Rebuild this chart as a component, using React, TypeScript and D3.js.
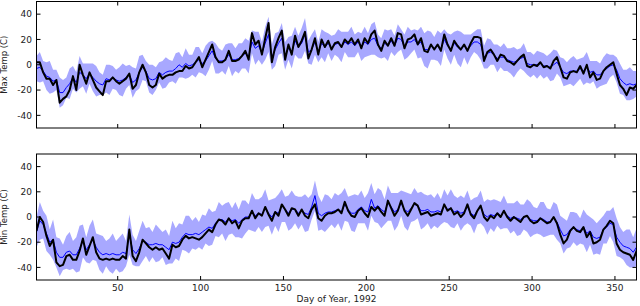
import React from 'react';
import * as d3 from 'd3';

// sample days: every other day of 1992
const days = d3.range(1, 366, 2);

// Max temp: observed (black), predicted mean (blue), band half width
const maxObs = [
  2, 2, -6, -11, -11, -16, -12, -30, -27, -25,
  -20, -9, -20, 0, -8, -15, -6, -12, -18, -21,
  -24, -13, -13, -10, -13, -15, -13, -11, -7, -19,
  -16, -6, 0, -6, -16, -18, -16, -7, -11, -9,
  -8, -8, -6, -5, -5, -1, -3, -2, 2, 6,
  -2, 4, 10, 16, 6, 2, 2, 4, 11, 3,
  3, 4, 7, 11, 4, 25, 16, 19, 8, 21,
  33, 2, 14, 21, 27, 4, 16, 8, 23, 14,
  19, 26, 5, 12, 21, 8, 20, 14, 19, 12,
  17, 18, 14, 20, 17, 21, 16, 20, 13, 21,
  17, 24, 27, 16, 11, 19, 15, 21, 15, 25,
  24, 13, 20, 21, 24, 16, 21, 11, 10, 16,
  12, 16, 11, 24, 16, 11, 19, 15, 12, 16,
  11, 17, 22, 22, 21, 3, 10, 12, 8, 3,
  8, 7, 3, 2, 0, 3, 6, 8, -1, -2,
  0, -1, 2, -2, -1, -3, 3, 6, -2, -10,
  -11, -6, -5, -6, -1, -7, 0, -10, -6, -12,
  -11, -5, -2, 0, 2, -7, -16, -19, -24, -18,
  -19, -16, -16,
];
const maxMean = [
  -3, -2, -5, -9, -10, -13, -12, -22, -22, -18,
  -15, -10, -14, -6, -8, -11, -7, -10, -13, -15,
  -16, -11, -12, -10, -12, -13, -12, -10, -8, -14,
  -12, -6, -2, -5, -11, -12, -11, -6, -8, -6,
  -5, -5, -3, 0, -2, 1, -1, 0, 2, 4,
  1, 3, 7, 11, 5, 3, 3, 4, 8, 4,
  4, 5, 7, 9, 6, 18, 13, 15, 9, 17,
  24, 6, 12, 17, 21, 7, 13, 10, 19, 14,
  17, 24, 10, 12, 18, 10, 17, 14, 17, 13,
  16, 17, 14, 18, 16, 18, 15, 18, 14, 18,
  16, 20, 21, 15, 13, 17, 15, 19, 15, 21,
  20, 14, 18, 18, 20, 16, 18, 12, 12, 15,
  13, 15, 12, 20, 15, 12, 17, 14, 12, 15,
  12, 15, 18, 18, 16, 6, 9, 10, 8, 5,
  6, 6, 4, 3, 2, 3, 5, 6, 1, 0,
  0, 0, 1, -1, -1, -2, 0, 2, -2, -6,
  -7, -5, -5, -5, -3, -5, -2, -6, -5, -8,
  -8, -5, -3, -1, 0, -4, -11, -14, -16, -15,
  -16, -15, -14,
];
const maxBand = [
  10, 12, 8, 11, 13, 9, 8, 12, 10, 8,
  12, 9, 8, 13, 9, 12, 8, 11, 12, 9,
  8, 11, 12, 9, 8, 11, 13, 9, 8, 12,
  9, 13, 10, 8, 11, 12, 9, 8, 11, 12,
  9, 8, 12, 10, 8, 12, 9, 8, 12, 10,
  8, 12, 11, 8, 12, 10, 8, 12, 9, 13,
  9, 12, 10, 12, 13, 9, 13, 11, 9, 13,
  14, 10, 13, 9, 12, 11, 9, 13, 11, 9,
  12, 13, 9, 12, 10, 8, 11, 12, 8, 10,
  8, 11, 12, 8, 10, 12, 9, 8, 11, 12,
  9, 12, 13, 9, 8, 11, 12, 9, 8, 11,
  8, 10, 12, 9, 8, 11, 12, 13, 15, 11,
  9, 12, 13, 8, 10, 12, 9, 13, 14, 9,
  12, 9, 8, 10, 12, 9, 12, 10, 8, 11,
  8, 11, 9, 10, 12, 9, 8, 11, 9, 10,
  8, 11, 9, 10, 8, 11, 12, 9, 8, 11,
  9, 10, 12, 9, 8, 11, 12, 9, 8, 11,
  9, 11, 12, 9, 8, 10, 12, 10, 12, 13,
  11, 10, 12,
];

// Min temp
const minObs = [
  -11, 0, -4, -15, -23, -18, -36, -39, -38, -31,
  -30, -34, -34, -27, -17, -30, -23, -16, -28, -33,
  -34, -33, -34, -33, -34, -34, -31, -33, -10, -31,
  -35, -28, -18, -21, -24, -26, -24, -26, -25, -29,
  -33, -22, -24, -23, -18, -15, -17, -16, -17, -18,
  -16, -13, -10, -12, -6, -2, -3, -6, -1, -5,
  -3, -9, -3, -1, -1, 5, -1, 3, 1, 8,
  2, -3, 4, 1, 10, 6, 1, 7, 6, 1,
  6, 1, -1, 6, 10, -1, -3, 1, 3, 3,
  4, 6, 3, 12, 5, 1, 0, 5, 7, 3,
  0, 8, 5, 8, 4, 1, 13, 7, 1, 5,
  13, 5, 1, 6, 11, 9, 2, 3, 4, 1,
  2, 3, 2, 10, 5, 7, 2, 4, 0, 3,
  10, 2, -1, 5, 9, 0, -3, 1, -1, 3,
  0, 5, 0, -3, 0, -2, -4, 0, 1, -3,
  -5, -4, -1, -3, -5, -4, 0, -5, -14, -21,
  -18, -11, -8, -11, -12, -8, -16, -12, -21, -20,
  -18, -10, -7, -3, -5, -21, -26, -28, -29, -30,
  -34, -27, -20,
];
const minMean = [
  -12, -3, -6, -13, -20, -18, -28, -32, -32, -28,
  -27, -30, -30, -25, -19, -26, -22, -18, -24, -28,
  -30, -29, -30, -29, -30, -30, -28, -29, -14, -26,
  -29, -25, -19, -20, -22, -22, -21, -22, -22, -24,
  -26, -20, -21, -20, -16, -13, -14, -14, -13, -14,
  -12, -10, -8, -9, -5, -2, -2, -4, -1, -3,
  -2, -5, -2, 0, 0, 4, 1, 3, 2, 7,
  3, 0, 4, 3, 9, 6, 3, 6, 6, 3,
  5, 3, 2, 8, 17, 3, 1, 3, 4, 4,
  5, 6, 4, 10, 6, 3, 3, 6, 8, 5,
  4, 14, 7, 9, 6, 4, 11, 8, 4, 6,
  11, 6, 4, 7, 10, 9, 5, 5, 6, 4,
  4, 5, 4, 9, 6, 7, 4, 5, 3, 4,
  8, 3, 1, 5, 8, 2, 0, 2, 1, 3,
  1, 4, 1, -1, 0, -1, -2, 0, 1, -2,
  -3, -3, -1, -2, -4, -4, -1, -4, -10, -15,
  -14, -10, -8, -10, -11, -8, -13, -11, -16, -17,
  -16, -10, -8, -5, -6, -16, -20, -23, -24, -25,
  -28, -24, -18,
];
const minBand = [
  12, 15, 11, 14, 10, 16, 12, 15, 10, 13,
  15, 11, 14, 18, 13, 10, 15, 16, 11, 14,
  15, 10, 13, 16, 11, 14, 15, 10, 16, 12,
  10, 14, 16, 11, 14, 10, 15, 13, 10, 14,
  11, 17, 12, 15, 10, 14, 15, 11, 13, 10,
  14, 11, 15, 13, 10, 14, 11, 15, 13, 10,
  14, 11, 15, 13, 10, 15, 13, 11, 14, 15,
  10, 14, 11, 15, 13, 10, 14, 15, 11, 13,
  11, 15, 13, 10, 12, 14, 11, 15, 13, 10,
  14, 11, 15, 13, 10, 14, 15, 11, 13, 10,
  15, 13, 11, 14, 15, 10, 14, 11, 15, 13,
  10, 14, 15, 11, 13, 10, 15, 13, 11, 14,
  11, 14, 10, 13, 11, 15, 13, 10, 14, 11,
  13, 10, 14, 11, 13, 10, 14, 11, 13, 10,
  11, 13, 10, 12, 11, 14, 12, 10, 13, 14,
  11, 10, 13, 14, 11, 10, 13, 14, 11, 14,
  11, 14, 12, 13, 10, 14, 15, 11, 14, 12,
  14, 11, 13, 10, 14, 15, 12, 11, 14, 15,
  12, 15, 13,
];

const xTicks = [50, 100, 150, 200, 250, 300, 350];
const yTicks = [-40, -20, 0, 20, 40];

const W = 640, H = 306;
const left = 36.5, right = 636.5;
const font = 'DejaVu Sans, sans-serif';

const x = d3.scaleLinear().domain([1, 363]).range([left, right]);

function Panel({ top, bottom, obs, mean, band, label, id, showX }) {
  const y = d3.scaleLinear().domain([-50, 50]).range([bottom, top]);
  const rows = days.map((d, i) => ({ d, o: obs[i], m: mean[i], b: band[i] }));
  const area = d3.area()
    .x(r => x(r.d))
    .y0(r => y(r.m - r.b))
    .y1(r => y(r.m + r.b));
  const meanLine = d3.line().x(r => x(r.d)).y(r => y(r.m));
  const obsLine = d3.line().x(r => x(r.d)).y(r => y(r.o));
  const tl = 4;
  return (
    <g>
      <defs>
        <clipPath id={id}>
          <rect x={left} y={top} width={right - left} height={bottom - top} />
        </clipPath>
      </defs>
      <g clipPath={`url(#${id})`}>
        <path d={area(rows)} fill="#9999ff" fillOpacity={0.85} stroke="none" />
        <path d={meanLine(rows)} fill="none" stroke="#0000ff" strokeWidth={1} />
        <path d={obsLine(rows)} fill="none" stroke="#000" strokeWidth={2} strokeLinejoin="round" />
      </g>
      <rect x={left} y={top} width={right - left} height={bottom - top} fill="none" stroke="#000" strokeWidth={1} />
      {xTicks.map(t => (
        <g key={'x' + t}>
          <line x1={x(t)} x2={x(t)} y1={bottom} y2={bottom - tl} stroke="#000" />
          <line x1={x(t)} x2={x(t)} y1={top} y2={top + tl} stroke="#000" />
          {showX && (
            <text x={x(t)} y={bottom + 11} textAnchor="middle" fontSize={9} fontFamily={font} fill="#222">{t}</text>
          )}
        </g>
      ))}
      {yTicks.map(t => (
        <g key={'y' + t}>
          <line x1={left} x2={left + tl} y1={y(t)} y2={y(t)} stroke="#000" />
          <line x1={right} x2={right - tl} y1={y(t)} y2={y(t)} stroke="#000" />
          <text x={left - 4.5} y={y(t) + 3.2} textAnchor="end" fontSize={9} fontFamily={font} fill="#222">{t}</text>
        </g>
      ))}
      <text transform={`translate(6.5,${(top + bottom) / 2}) rotate(-90)`} textAnchor="middle" fontSize={8.5} fontFamily={font} fill="#222">{label}</text>
    </g>
  );
}

export default function App() {
  return (
    <svg width={W} height={H} style={{ position: 'absolute', left: 0, top: 0, background: '#fff' }}>
      <rect width={W} height={H} fill="#fff" />
      <Panel top={1.5} bottom={128} obs={maxObs} mean={maxMean} band={maxBand} label="Max Temp (C)" id="c1" showX={false} />
      <Panel top={154} bottom={280} obs={minObs} mean={minMean} band={minBand} label="Min Temp (C)" id="c2" showX={true} />
      <text x={(left + right) / 2} y={302} textAnchor="middle" fontSize={9} fontFamily={font} fill="#222">Day of Year, 1992</text>
    </svg>
  );
}
